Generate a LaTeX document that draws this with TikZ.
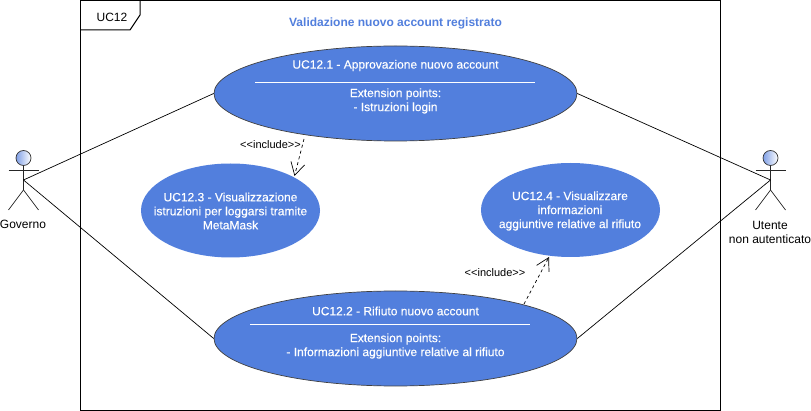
\documentclass[tikz,border=0pt]{standalone}
\usepackage{fontspec}
\setmainfont{Liberation Sans}
\newfontfamily\ucfont[FakeBold=0.25]{Liberation Sans}
\usetikzlibrary{arrows.meta,shapes.geometric}
\definecolor{ucblue}{HTML}{527FDD}
\definecolor{headblue}{HTML}{7F9FE6}
\tikzset{
  usecase/.style={ellipse,draw=black!75,line width=.7pt,fill=ucblue,inner sep=0pt},
  uctext/.style={text=white,align=center,inner sep=0pt,font=\ucfont\fontsize{12}{14}\selectfont},
  divider/.style={white,line width=.8pt},
  actorhead/.style={circle,draw=black!80,line width=.7pt,left color=headblue,right color=white,minimum size=15pt,inner sep=0pt},
  actorline/.style={black!85,line width=.7pt},
  actorlabel/.style={align=center,inner sep=0pt,font=\fontsize{12}{14}\selectfont},
  assoc/.style={black,line width=.7pt},
  includearrow/.style={dashed,black,line width=.7pt,-{Straight Barb[length=12.5pt,width=14pt]}},
  includelabel/.style={inner sep=0pt,font=\fontsize{11}{13}\selectfont}
}
\begin{document}
\begin{tikzpicture}[x=1pt,y=-1pt]
  \useasboundingbox (0,0) rectangle (811,411);
  % Frame
  \draw[line width=1pt,fill=white] (80.5,.5) rectangle (720,410);
  \draw[line width=1pt] (140,.5) -- (140,15) -- (130,30) -- (80.5,30);
  \node[inner sep=0pt,font=\fontsize{12}{14}\selectfont] (frametag) at (112,17) {UC12};
  \node[inner sep=0pt,text=ucblue,font=\bfseries\fontsize{12}{14}\selectfont] (title) at (395.5,23) {Validazione nuovo account registrato};
  % Use cases
  \node[usecase,minimum width=363pt,minimum height=95pt] (UCa) at (395.5,93.5) {};
  \node[usecase,minimum width=363pt,minimum height=95pt] (UCb) at (395.5,338.5) {};
  \node[usecase,draw=none,minimum width=179pt,minimum height=94pt] (UCc) at (230.5,210.5) {};
  \node[usecase,draw=none,minimum width=179pt,minimum height=94pt] (UCd) at (570.5,210) {};
  \node[uctext] (UCctext) at (230.5,211) {UC12.3 - Visualizzazione\\istruzioni per loggarsi tramite\\MetaMask};
  \node[uctext] (UCdtext) at (570,211) {UC12.4 - Visualizzare\\informazioni\\aggiuntive relative al rifiuto};
  \node[uctext] (UCatitle) at (395.5,65.5) {UC12.1 - Approvazione nuovo account};
  \draw[divider] (255,82.5) -- (535,82.5);
  \node[uctext] (UCaext) at (395.5,101) {Extension points:\\- Istruzioni login};
  \node[uctext] (UCbtitle) at (395.5,311) {UC12.2 - Rifiuto nuovo account};
  \draw[divider] (250,324.5) -- (530,324.5);
  \node[uctext] (UCbext) at (395.5,346) {Extension points:\\- Informazioni aggiuntive relative al rifiuto};
  % Left actor
  \node[actorhead] (governohead) at (23.5,158) {};
  \coordinate (governo) at (23.5,180);
  \coordinate (governohip) at (23.5,190);
  \draw[actorline] (governohead) -- (governohip) -- (8.5,210);
  \draw[actorline] (governohip) -- (38.5,210);
  \draw[actorline] (8.5,170) -- (38.5,170);
  \node[actorlabel] (governolabel) at (23,224.5) {Governo};
  % Right actor
  \node[actorhead] (utentehead) at (770.5,158) {};
  \coordinate (utente) at (770.5,180);
  \coordinate (utentehip) at (770.5,190);
  \draw[actorline] (utentehead) -- (utentehip) -- (755.5,210);
  \draw[actorline] (utentehip) -- (785.5,210);
  \draw[actorline] (755.5,170) -- (785.5,170);
  \node[actorlabel] (utentelabel) at (770,232) {Utente\\non autenticato};
  % Associations
  \draw[assoc] (governo) -- (UCa.west);
  \draw[assoc] (governo) -- (UCb.west);
  \draw[assoc] (utente) -- (UCa.east);
  \draw[assoc] (utente) -- (UCb.east);
  % Includes
  \coordinate (UCaout) at (304,139);
  \coordinate (UCcin) at (294.5,176);
  \coordinate (UCbout) at (524,304);
  \coordinate (UCdin) at (549,257);
  \draw[includearrow] (UCaout) -- (UCcin);
  \draw[includearrow] (UCbout) -- (UCdin);
  \node[includelabel] (includea) at (270.5,145) {<{}<include>{}>};
  \node[includelabel] (includeb) at (495,273) {<{}<include>{}>};
\end{tikzpicture}
\end{document}
